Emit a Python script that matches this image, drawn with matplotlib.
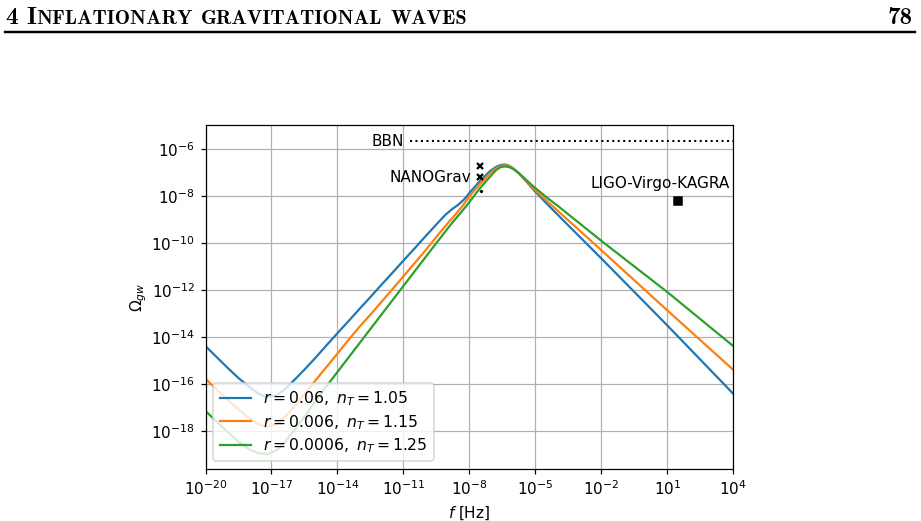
import matplotlib
matplotlib.use("Agg")
import matplotlib.pyplot as plt
from matplotlib.ticker import FixedLocator, NullLocator
from matplotlib.transforms import IdentityTransform

# ---------------- data (log10 values) ----------------
lf_blue = [-20, -19.5, -19, -18.5, -18, -17.6, -17.2, -16.8, -16.4, -16.0,
           -15.5, -15.0, -14.5, -14.0, -13.5, -13.0, -12.5, -12.0, -11.5, -11.0,
           -10.5, -10.0, -9.5, -9.1, -8.8, -8.5, -8.2, -7.98, -7.5, -7.07,
           -6.8, -6.6, -6.4, -6.2, -6.0, -5.75, -5.5, -5.25, -4.98, -4.5,
           -3.89, -2, 1, 4]
lo_blue = [-14.40, -14.86, -15.32, -15.76, -16.14, -16.42, -16.58, -16.50, -16.25, -15.88,
           -15.40, -14.90, -14.37, -13.85, -13.34, -12.82, -12.31, -11.79, -11.28, -10.76,
           -10.25, -9.73, -9.22, -8.82, -8.58, -8.38, -8.12, -7.86, -7.35, -6.96,
           -6.78, -6.70, -6.67, -6.72, -6.84, -7.05, -7.30, -7.57, -7.85, -8.32,
           -8.90, -10.67, -13.52, -16.43]

lf_orange = [-20, -19.5, -19, -18.5, -18, -17.6, -17.2, -16.8, -16.4, -16.0,
             -15.5, -15.0, -14.5, -14.0, -13.5, -13.0, -12.5, -12.0, -11.5, -11.0,
             -10.5, -10.0, -9.5, -9.2, -8.9, -8.6, -8.3, -7.98, -7.5,
             -7.07, -6.8, -6.6, -6.4, -6.2, -6.0, -5.75, -5.5, -5.25, -4.98,
             -4.5, -3.89, -2, 1, 4]
lo_orange = [-15.79, -16.24, -16.68, -17.10, -17.48, -17.72, -17.84, -17.72, -17.42, -17.02,
             -16.45, -15.86, -15.29, -14.72, -14.14, -13.58, -13.06, -12.52, -11.98, -11.43,
             -10.88, -10.33, -9.75, -9.41, -9.08, -8.76, -8.42, -8.00, -7.49,
             -7.05, -6.84, -6.74, -6.70, -6.74, -6.85, -7.05, -7.28, -7.53, -7.79,
             -8.20, -8.72, -10.32, -12.88, -15.41]

lf_green = [-20, -19.5, -19, -18.5, -18, -17.6, -17.2, -16.8, -16.4, -16.0,
            -15.5, -15.0, -14.5, -14.0, -13.5, -13.0, -12.5, -12.0, -11.5, -11.0,
            -10.5, -10.0, -9.5, -9.0, -8.7, -8.4, -8.1, -7.8, -7.5,
            -7.07, -6.8, -6.6, -6.4, -6.2, -6.0, -5.75, -5.5, -5.25, -4.98,
            -4.5, -3.89, -2, 1, 4]
lo_green = [-17.16, -17.61, -18.05, -18.47, -18.80, -18.95, -19.00, -18.85, -18.50, -18.02,
            -17.40, -16.74, -16.11, -15.50, -14.89, -14.28, -13.67, -13.06, -12.45, -11.84,
            -11.23, -10.62, -10.01, -9.41, -9.06, -8.73, -8.39, -8.02, -7.66,
            -7.20, -6.92, -6.79, -6.75, -6.78, -6.87, -7.04, -7.25, -7.47, -7.69,
            -8.06, -8.50, -9.92, -12.10, -14.40]

labels = [r"$r = 0.06,\ n_T = 1.05$",
          r"$r = 0.006,\ n_T = 1.15$",
          r"$r = 0.0006,\ n_T = 1.25$"]

f_nano = [3.0e-8, 3.0e-8, 3.2e-8]
om_nano = [1.8e-7, 6.0e-8, 1.6e-8]

f_lvk = [30.0]
om_lvk = [5.9e-9]

bbn_f = [2e-11, 1e4]
bbn_om = 2.1e-6

xticks = [1e-20, 1e-17, 1e-14, 1e-11, 1e-8, 1e-5, 1e-2, 1e1, 1e4]
yticks = [1e-18, 1e-16, 1e-14, 1e-12, 1e-10, 1e-8, 1e-6]

# ---------------- figure ----------------
W, H, DPI = 921, 521, 110
fig = plt.figure(figsize=(W / DPI, H / DPI), dpi=DPI)

ax = fig.add_axes([205.5 / W, 1 - 469 / H, (733.3 - 205.5) / W, (469 - 125) / H])
ax.set_xscale("log")
ax.set_yscale("log")

for lf, lo, lab, c in zip([lf_blue, lf_orange, lf_green],
                          [lo_blue, lo_orange, lo_green],
                          labels, ["C0", "C1", "C2"]):
    ax.plot([10 ** v for v in lf], [10 ** v for v in lo], color=c, lw=1.45, label=lab)

# BBN bound
ax.plot(bbn_f, [bbn_om, bbn_om], color="k", ls=":", lw=1.35)
ax.text(1.0e-11, bbn_om, "BBN", ha="right", va="center", fontsize=10)

# NANOGrav
for f, o, ms in zip(f_nano, om_nano, [3.7, 3.7, 1.3]):
    ax.plot([f], [o], "x", color="k", ms=ms, mew=1.5)
ax.text(1.17e-8, 6.2e-8, "NANOGrav", ha="right", va="center", fontsize=10)

# LVK
ax.plot(f_lvk, om_lvk, "s", color="k", ms=5.2)
ax.text(10 ** 3.86, 3.2e-8, "LIGO-Virgo-KAGRA", ha="right", va="center", fontsize=10)

ax.set_xlim(1e-20, 1e4)
ax.set_ylim(10 ** -19.63, 10 ** -4.99)
ax.xaxis.set_major_locator(FixedLocator(xticks))
ax.yaxis.set_major_locator(FixedLocator(yticks))
ax.xaxis.set_minor_locator(NullLocator())
ax.yaxis.set_minor_locator(NullLocator())
ax.grid(True, which="major")
ax.set_xlabel(r"$f$ [Hz]")
ax.set_ylabel(r"$\Omega_{gw}$", labelpad=1.5)
ax.legend(loc="lower left", fontsize=10.2, labelspacing=0.3)

# ---------------- page header ----------------
renderer = fig.canvas.get_renderer()
px2pt = 72.0 / DPI
hdr_font = dict(family="cmb10", color="k")
BIG, SMALL = 25.0 * px2pt, 20.4 * px2pt
x = 5.0
y = H - 24.0
parts = [("4", True), (" ", None), ("I", True), ("NFLATIONARY", False), (" ", None),
         ("GRAVITATIONAL", False), (" ", None), ("WAVES", False)]
for txt, big in parts:
    if big is None:
        x += 8.5
        continue
    t = fig.text(x, y, txt, transform=IdentityTransform(), ha="left", va="baseline",
                 fontsize=BIG if big else SMALL, **hdr_font)
    x += t.get_window_extent(renderer=renderer).width
fig.text(W - 8, y, "78", transform=IdentityTransform(), ha="right", va="baseline",
         fontsize=BIG, **hdr_font)
fig.add_artist(plt.Line2D([5, W - 6], [H - 31.5, H - 31.5], transform=IdentityTransform(),
                          color="k", lw=1.6))

fig.savefig("out.png", dpi=DPI)
